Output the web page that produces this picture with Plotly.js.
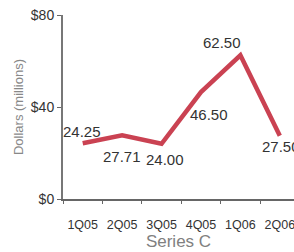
<!DOCTYPE html>
<html>
<head>
<meta charset="utf-8">
<script src="https://cdn.plot.ly/plotly-3.0.1.min.js"></script>
<style>html,body{margin:0;padding:0;background:#fff;}#chart{width:294px;height:252px;}</style>
</head>
<body>
<div id="chart"></div>
<script>
var categories = ['1Q05', '2Q05', '3Q05', '4Q05', '1Q06', '2Q06'];
var seriesC = [24.25, 27.71, 24.00, 46.50, 62.50, 27.50];
var yTickValues = [0, 40, 80];
var yTickLabels = ['$0', '$40', '$80'];

var labelShiftX = [-1, 0, 3, 8, -18, 1];
var labelShiftY = [12, -21, -16, -22, 13, -11];

var font = 'Liberation Sans, Arial, sans-serif';

var annotations = categories.map(function (c, i) {
  return {
    x: c, y: seriesC[i], xref: 'x', yref: 'y',
    text: seriesC[i].toFixed(2), showarrow: false,
    xshift: labelShiftX[i], yshift: labelShiftY[i],
    font: {family: font, size: 15, color: '#333'}
  };
});

var trace = {
  x: categories, y: seriesC, type: 'scatter', mode: 'lines',
  line: {color: 'rgb(202,66,82)', width: 4.5},
  cliponaxis: false, hoverinfo: 'none'
};

var layout = {
  width: 294, height: 252,
  margin: {l: 63, r: 0, t: 15, b: 53},
  paper_bgcolor: '#fff', plot_bgcolor: '#fff',
  showlegend: false,
  font: {family: font, color: '#333'},
  xaxis: {
    type: 'category', range: [-0.5, 5.36],
    showgrid: false, zeroline: false,
    showline: true, linecolor: '#666', linewidth: 2,
    ticks: 'outside', ticklen: 3, tickcolor: '#666', tickwidth: 1,
    tickson: 'boundaries', ticklabelstandoff: 13, tickangle: 0,
    tickfont: {family: font, size: 12.5, color: '#333'},
    title: {text: 'Series C', font: {family: font, size: 17, color: '#808080'}, standoff: 3}
  },
  yaxis: {
    range: [0, 80], tickvals: yTickValues, ticktext: yTickLabels,
    showgrid: false, zeroline: false,
    showline: true, linecolor: '#777', linewidth: 2,
    ticks: 'outside', ticklen: 4, tickcolor: '#666', tickwidth: 1,
    tickfont: {family: font, size: 14, color: '#333'},
    title: {text: 'Dollars (millions)', font: {family: font, size: 13, color: '#888'}, standoff: 4}
  },
  annotations: annotations
};

Plotly.newPlot('chart', [trace], layout, {staticPlot: true, displayModeBar: false});
</script>
</body>
</html>
